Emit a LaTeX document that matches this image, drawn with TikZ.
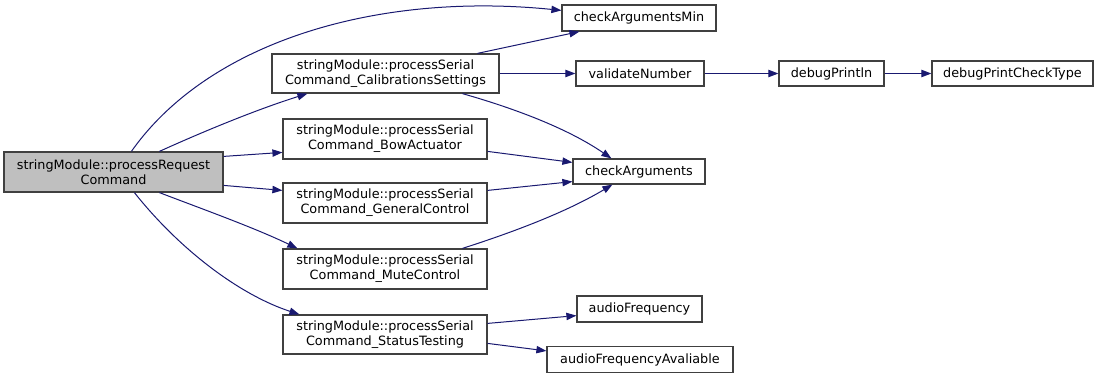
\documentclass[tikz,border=0pt]{standalone}
\usepackage{fontspec}
\setmainfont{DejaVu Sans}
\usetikzlibrary{arrows.meta,calc}
\definecolor{edgeblue}{HTML}{191970}
\definecolor{rootfill}{HTML}{BFBFBF}
\definecolor{boxline}{HTML}{404040}
\begin{document}
\begin{tikzpicture}[x=0.75pt,y=-0.75pt,
  fn/.style 2 args={draw=boxline,line width=0.9pt,fill=white,rectangle,inner sep=0pt,
    align=center,minimum width=#1*0.75pt,minimum height=#2*0.75pt,
    font=\fontsize{9.6}{11.25}\selectfont},
  root/.style={fill=rootfill},
  call/.style={draw=edgeblue,line width=0.75pt,-{Triangle[length=7.5pt,width=5.5pt]}}]
\useasboundingbox (0,0) rectangle (1100,379);

% caller
\node[fn={219}{40},root] (A) at (113.5,172) {stringModule::processRequest\\Command};

% serial command handlers
\node[fn={227}{39}] (B) at (385.5,73.5) {stringModule::processSerial\\Command\_CalibrationsSettings};
\node[fn={204}{40}] (C) at (385,139) {stringModule::processSerial\\Command\_BowActuator};
\node[fn={204}{40}] (D) at (385,203) {stringModule::processSerial\\Command\_GeneralControl};
\node[fn={204}{40}] (E) at (385,269) {stringModule::processSerial\\Command\_MuteControl};
\node[fn={204}{39}] (F) at (385,334.5) {stringModule::processSerial\\Command\_StatusTesting};

% helpers
\node[fn={154}{26}] (G) at (639,18) {checkArgumentsMin};
\node[fn={128}{25}] (H) at (640,73.5) {validateNumber};
\node[fn={105}{25}] (I) at (831.5,73.5) {debugPrintln};
\node[fn={161}{25}] (J) at (1012.5,73.5) {debugPrintCheckType};
\node[fn={132}{25}] (K) at (639,171.5) {checkArguments};
\node[fn={125}{26}] (L) at (639.5,309) {audioFrequency};
\node[fn={186}{26}] (M) at (640,359.5) {audioFrequencyAvaliable};

% calls from processRequestCommand
\draw[call] ($(A.north west)+(128,0)$) .. controls (210,40) and (380,-8) .. ($(G.north west)+(0,6)$);
\draw[call] ($(A.north west)+(156,0)$) .. controls (200,133) and (255,110) .. ($(B.south west)+(36,0)$);
\draw[call] ($(A.north east)+(0,5)$) -- ($(C.north west)+(0,34)$);
\draw[call] ($(A.north east)+(0,34)$) -- ($(D.north west)+(0,8)$);
\draw[call] ($(A.south west)+(156,0)$) .. controls (205,210) and (255,228) .. ($(E.north west)+(15,0)$);
\draw[call] ($(A.south west)+(131,0)$) .. controls (180,250) and (240,295) .. ($(F.north west)+(17,0)$);

% calls from the handlers
\draw[call] ($(B.north west)+(206,0)$) -- ($(G.south west)+(18,0)$);
\draw[call] (B.east) -- (H.west);
\draw[call] ($(B.south west)+(191,0)$) .. controls (520,110) and (570,130) .. ($(K.north west)+(39,0)$);
\draw[call] ($(C.north east)+(0,33)$) -- ($(K.north west)+(0,4)$);
\draw[call] ($(D.north east)+(0,8)$) -- ($(K.south west)+(0,-3)$);
\draw[call] ($(E.north west)+(180,0)$) .. controls (520,230) and (570,210) .. ($(K.south west)+(40,0)$);
\draw[call] (H.east) -- (I.west);
\draw[call] (I.east) -- (J.west);
\draw[call] ($(F.north east)+(0,9)$) -- ($(L.south west)+(0,-7)$);
\draw[call] ($(F.north east)+(0,29)$) -- ($(M.north west)+(0,5)$);
\end{tikzpicture}
\end{document}
